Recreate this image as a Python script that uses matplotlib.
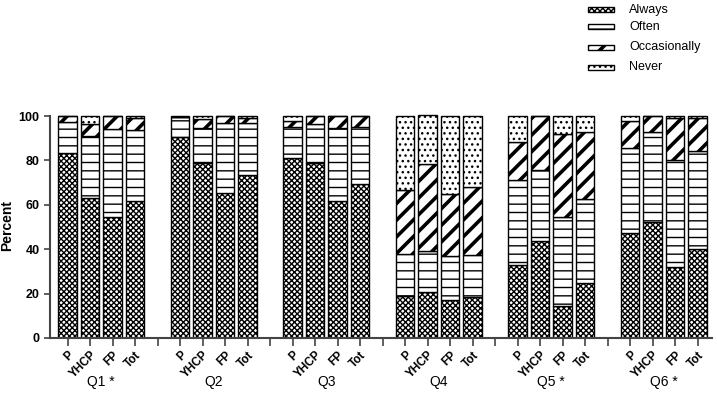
import matplotlib
matplotlib.use("Agg")
import matplotlib.pyplot as plt
import matplotlib.transforms as mtransforms
from matplotlib.patches import Rectangle
import numpy as np

plt.rcParams['font.family'] = ['Liberation Sans', 'DejaVu Sans']

groups = ['Q1 *', 'Q2', 'Q3', 'Q4', 'Q5 *', 'Q6 *']
bar_labels = ['P', 'YHCP', 'FP', 'Tot']
categories = ['Always', 'Often', 'Occasionally', 'Never']

# percent per bar: Q1 P, Q1 YHCP, Q1 FP, Q1 Tot, Q2 P, ...
always = [83.2, 63.0, 54.7, 61.5, 90.7, 78.7, 65.2, 73.5, 81.0, 78.7, 61.5, 69.4,
          18.7, 20.8, 17.2, 18.4, 33.0, 43.5, 14.2, 24.7, 47.2, 52.2, 32.2, 40.0]
often = [14.3, 28.0, 39.3, 32.2, 8.7, 16.1, 31.8, 23.2, 14.2, 17.6, 33.0, 25.6,
         19.2, 18.6, 19.8, 19.1, 38.2, 32.2, 40.5, 38.0, 38.3, 40.8, 48.0, 44.3]
occasionally = [2.5, 5.3, 6.0, 5.3, 0.0, 3.7, 3.0, 2.6, 2.4, 3.7, 5.5, 5.0,
                28.8, 38.9, 28.0, 30.7, 17.0, 24.3, 37.1, 30.3, 12.3, 7.0, 18.8, 15.0]
never = [0.0, 3.7, 0.0, 1.0, 0.6, 1.5, 0.0, 0.7, 2.4, 0.0, 0.0, 0.0,
         33.3, 22.3, 35.0, 31.8, 11.8, 0.0, 8.2, 7.0, 2.2, 0.0, 1.0, 0.7]

series = [always, often, occasionally, never]
hatches = ['xxxxxx', '--', '//', '...']
hatch_lw = [1.0, 1.0, 2.6, 1.0]

# bar slots: 4 bars per group then one empty slot
x = np.array([g * 5 + i for g in range(len(groups)) for i in range(4)])

W, H = 717, 408
fig = plt.figure(figsize=(W / 100, H / 100), dpi=100)
ax = fig.add_axes([0.0697, 0.1716, 0.9229, 0.5494])

bottom = np.zeros(len(x))
for vals, h, lw, name in zip(series, hatches, hatch_lw, categories):
    vals = np.array(vals)
    with plt.rc_context({'hatch.linewidth': lw}):
        ax.bar(x, vals, width=0.84, bottom=bottom, color='white',
               edgecolor='black', linewidth=1.0, hatch=h, label=name)
    bottom += vals

ax.set_xlim(-0.78, 28.63)
ax.set_ylim(0, 101)
ax.set_yticks([0, 20, 40, 60, 80, 100])
ax.spines['top'].set_visible(False)
ax.spines['right'].set_visible(False)
ax.spines['left'].set_bounds(0, 100)
for s in ['left', 'bottom']:
    ax.spines[s].set_linewidth(1.5)
    ax.spines[s].set_color('#444444')

all_ticks = np.arange(0, 29)
tick_text = []
for t in all_ticks:
    tick_text.append('' if t % 5 == 4 else bar_labels[t % 5])
ax.set_xticks(all_ticks)
ax.set_xticklabels(tick_text, rotation=45, ha='right', rotation_mode='anchor',
                   fontsize=8.5, fontweight='bold')
ax.tick_params(axis='x', length=6, width=1.2, color='#444444', pad=2)
ax.tick_params(axis='y', length=4, width=1.2, color='#444444', labelsize=9)
for lab in ax.get_yticklabels():
    lab.set_fontweight('bold')

ax.set_ylabel('Percent', fontsize=10, fontweight='bold')
ax.yaxis.set_label_coords(-0.054, 0.5)

trans = mtransforms.blended_transform_factory(ax.transData, ax.transAxes)
for g, name in enumerate(groups):
    ax.text(g * 5 + 1.5, -0.195, name, transform=trans, ha='center', va='center',
            fontsize=10)

# legend drawn by hand (pixel positions from the top-left corner)
row_y = [9.5, 26.5, 47, 67]
for y, h, lw, name in zip(row_y, hatches, hatch_lw, categories):
    with plt.rc_context({'hatch.linewidth': lw}):
        r = Rectangle((588 / W, 1 - (y + 2.5) / H), 26 / W, 5 / H,
                      transform=fig.transFigure, facecolor='white',
                      edgecolor='black', linewidth=1.0, hatch=h)
    fig.add_artist(r)
    fig.text(629 / W, 1 - y / H, name, ha='left', va='center', fontsize=9)

fig.savefig('out.png', dpi=100)
